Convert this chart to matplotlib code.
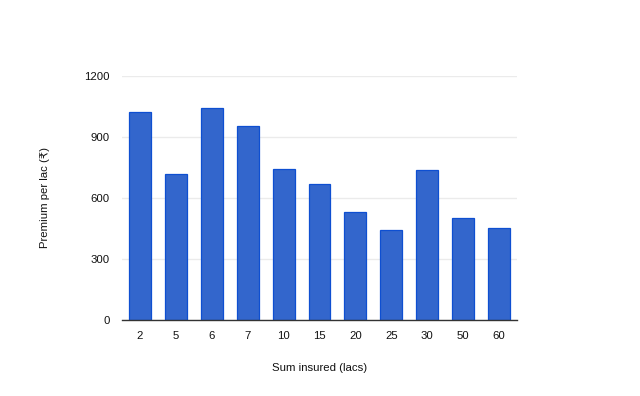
import matplotlib
matplotlib.use("Agg")
import matplotlib.pyplot as plt
import numpy as np

# Datos
sum_insured = ["2", "5", "6", "7", "10", "15", "20", "25", "30", "50", "60"]
premium_per_lac = [1020, 715, 1040, 950, 740, 670, 528, 440, 738, 500, 450]
y_ticks = [0, 300, 600, 900, 1200]

plt.rcParams['font.family'] = ['Liberation Sans', 'DejaVu Sans']

fig = plt.figure(figsize=(6.4, 3.96), dpi=100)
ax = fig.add_axes([0.1906, 0.1919, 0.6172, 0.6174])

x = np.arange(len(sum_insured))
ax.bar(x, premium_per_lac, width=0.61, color='#3366cc', edgecolor='#0e4fd1',
       linewidth=0.9, zorder=3)

ax.set_xlim(-0.5, len(sum_insured) - 0.5)
ax.set_ylim(0, 1200)
ax.set_yticks(y_ticks)
ax.set_yticklabels([str(v) for v in y_ticks])
ax.set_xticks(x)
ax.set_xticklabels(sum_insured)

ax.grid(True, axis='y', color='#ebebeb', linewidth=1, zorder=0)
for s in ['top', 'right', 'left']:
    ax.spines[s].set_visible(False)
ax.spines['bottom'].set_color('#333333')
ax.spines['bottom'].set_linewidth(1)
ax.spines['bottom'].set_zorder(4)

ax.tick_params(axis='both', length=0, labelsize=8.2, colors='#111111')
ax.tick_params(axis='x', pad=8)
ax.tick_params(axis='y', pad=9)

# Etiquetas de ejes en coordenadas de figura
fig.text(0.5, 1 - 368 / 396, "Sum insured (lacs)", ha='center', va='center',
         fontsize=8.2, color='#111111')
fig.text(45 / 640, 1 - 198 / 396, "Premium per lac (₹)", rotation=90, ha='center',
         va='center', fontsize=8.2, color='#111111')

plt.savefig("out.png", dpi=100)
